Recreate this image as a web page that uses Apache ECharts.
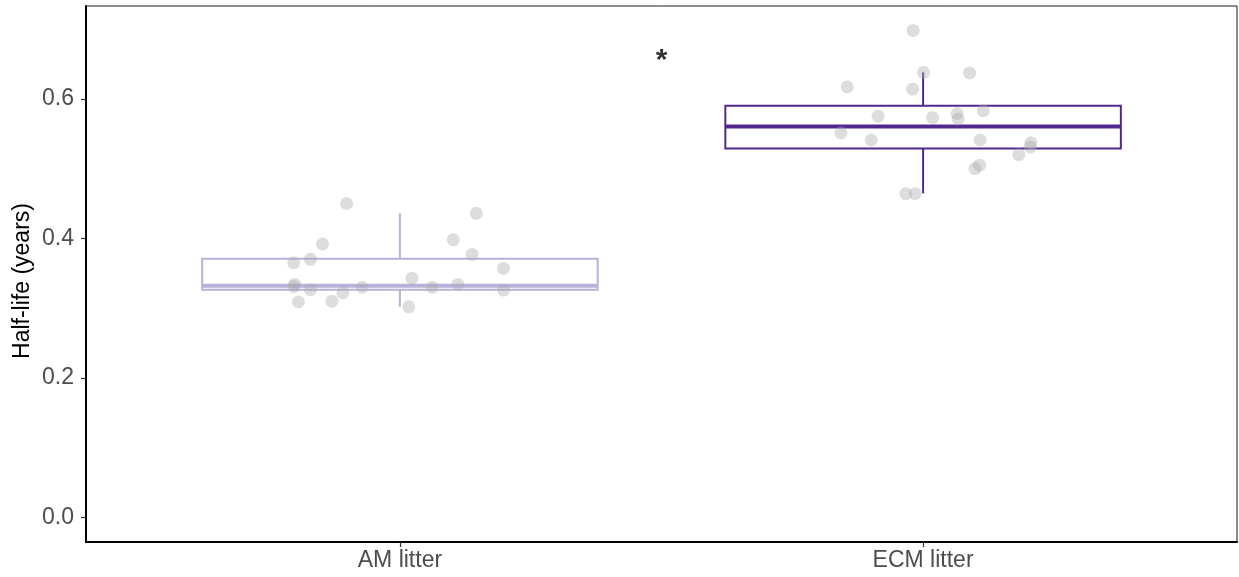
<!DOCTYPE html>
<html>
<head>
<meta charset="utf-8">
<script src="https://cdn.jsdelivr.net/npm/echarts@6/dist/echarts.min.js"></script>
<style>
  html, body { margin: 0; padding: 0; background: #fff; }
  #chart { width: 1239px; height: 577px; }
</style>
</head>
<body>
<div id="chart"></div>
<script>
// Groups and their positions on the x scale
const categories = ['AM litter', 'ECM litter'];
const categoryPos = [1, 2];

// Box statistics: [lower whisker, Q1, median, Q3, upper whisker]
const amBox = [0.302, 0.3265, 0.332, 0.371, 0.436];
const ecmBox = [0.4645, 0.529, 0.5605, 0.590, 0.638];

// Individual half-life observations (jittered x, value)
const amPoints = [
  [0.898, 0.450], [0.852, 0.392], [0.829, 0.370], [0.797, 0.365],
  [0.797, 0.331], [0.799, 0.334], [0.829, 0.3265], [0.806, 0.309],
  [0.870, 0.310], [0.891, 0.322], [0.928, 0.330], [1.023, 0.343],
  [1.017, 0.302], [1.062, 0.330], [1.102, 0.398], [1.138, 0.377],
  [1.111, 0.334], [1.146, 0.436], [1.198, 0.357], [1.198, 0.326]
];
const ecmPoints = [
  [1.981, 0.698], [2.001, 0.638], [2.089, 0.637], [1.855, 0.617],
  [1.980, 0.614], [1.914, 0.575], [2.018, 0.573], [2.065, 0.579],
  [2.067, 0.571], [2.115, 0.583], [1.843, 0.551], [1.901, 0.541],
  [2.109, 0.541], [2.206, 0.537], [2.205, 0.531], [2.183, 0.520],
  [2.108, 0.505], [2.099, 0.500], [1.967, 0.464], [1.985, 0.464]
];

// Y axis tick values
const yTicks = [0, 0.2, 0.4, 0.6];

// Significance marker
const sigMark = { x: 1.5, y: 0.659, text: '*' };

const boxColors = ['#b8b1da', '#54278f'];
const boxes = [amBox, ecmBox];
const boxHalfWidth = 0.378;
const fontFamily = 'Liberation Sans, Arial, sans-serif';

const chart = echarts.init(document.getElementById('chart'), null, { renderer: 'canvas' });

function boxRender(params, api) {
  const i = params.dataIndex;
  const x = api.value(0);
  const s = [api.value(1), api.value(2), api.value(3), api.value(4), api.value(5)];
  const left = api.coord([x - boxHalfWidth, 0])[0];
  const right = api.coord([x + boxHalfWidth, 0])[0];
  const cx = api.coord([x, 0])[0];
  const yLo = api.coord([x, s[0]])[1];
  const yQ1 = api.coord([x, s[1]])[1];
  const yMed = api.coord([x, s[2]])[1];
  const yQ3 = api.coord([x, s[3]])[1];
  const yHi = api.coord([x, s[4]])[1];
  const color = boxColors[i];
  return {
    type: 'group',
    children: [
      { type: 'line', shape: { x1: cx, y1: yQ3, x2: cx, y2: yHi }, style: { stroke: color, lineWidth: 2 } },
      { type: 'line', shape: { x1: cx, y1: yQ1, x2: cx, y2: yLo }, style: { stroke: color, lineWidth: 2 } },
      { type: 'rect', shape: { x: left, y: yQ3, width: right - left, height: yQ1 - yQ3 },
        style: { stroke: color, fill: '#ffffff', lineWidth: 2 } },
      { type: 'line', shape: { x1: left, y1: yMed, x2: right, y2: yMed }, style: { stroke: color, lineWidth: 4 } }
    ]
  };
}

const option = {
  backgroundColor: '#ffffff',
  animation: false,
  grid: {
    left: 86, right: 2, top: 6, bottom: 35,
    show: true, borderColor: '#1a1a1a', borderWidth: 1, backgroundColor: '#ffffff'
  },
  xAxis: {
    type: 'value',
    min: 0.4, max: 2.6,
    splitLine: { show: false },
    axisLine: { show: true, onZero: false, lineStyle: { color: '#000000', width: 2 } },
    axisTick: { show: true, length: 5, customValues: categoryPos, lineStyle: { color: '#333333', width: 1.2 } },
    axisLabel: {
      customValues: categoryPos,
      formatter: v => categories[categoryPos.indexOf(v)] || '',
      color: '#4d4d4d', fontSize: 23, fontFamily: fontFamily, margin: 7
    }
  },
  yAxis: {
    type: 'value',
    min: -0.035, max: 0.733,
    name: 'Half-life (years)',
    nameLocation: 'middle',
    nameGap: 52,
    nameMoveOverlap: false,
    nameTextStyle: { color: '#000000', fontSize: 23, fontFamily: fontFamily, padding: [0, 14, 0, 0] },
    splitLine: { show: false },
    axisLine: { show: true, onZero: false, lineStyle: { color: '#000000', width: 2 } },
    axisTick: { show: true, length: 5, customValues: yTicks, lineStyle: { color: '#333333', width: 1.2 } },
    axisLabel: {
      customValues: yTicks,
      formatter: v => v.toFixed(1),
      color: '#4d4d4d', fontSize: 23, fontFamily: fontFamily, margin: 12
    }
  },
  series: [
    {
      type: 'custom',
      renderItem: boxRender,
      encode: { x: 0, y: [1, 2, 3, 4, 5] },
      data: categoryPos.map((p, i) => [p].concat(boxes[i])),
      z: 2
    },
    {
      type: 'scatter',
      symbolSize: 13,
      itemStyle: { color: 'rgba(169,169,169,0.5)' },
      data: amPoints.concat(ecmPoints),
      z: 3
    },
    {
      type: 'scatter',
      symbolSize: 0,
      data: [[sigMark.x, sigMark.y]],
      label: {
        show: true, position: 'inside', formatter: sigMark.text,
        fontSize: 30, fontWeight: 'bold', color: '#000000',
        fontFamily: fontFamily, offset: [0, 3]
      },
      z: 4
    }
  ]
};

chart.setOption(option);
</script>
</body>
</html>
